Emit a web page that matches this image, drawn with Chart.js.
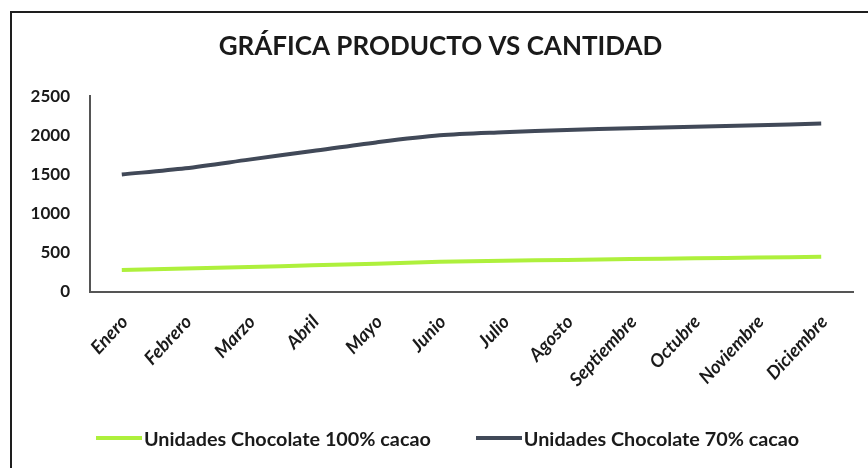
<!DOCTYPE html>
<html>
<head>
<meta charset="utf-8">
<script src="https://cdn.jsdelivr.net/npm/chart.js@4"></script>
<style>
  html, body { margin: 0; padding: 0; background: #fff; }
  #wrap { position: relative; width: 868px; height: 468px; overflow: hidden; }
  /* marco del gráfico (solo se ven el borde superior e izquierdo) */
  #frame { position: absolute; left: 10px; top: 11px; width: 900px; height: 500px;
           border-left: 2px solid #1e1e1e; border-top: 2px solid #1e1e1e; box-sizing: border-box; }
  canvas { position: absolute; left: 0; top: 0; }
  #leyenda { position: absolute; left: 96px; top: 426px; display: flex; align-items: center;
             font-family: Lato, "Open Sans", sans-serif; font-weight: bold; font-size: 19.8px;
             color: #1a1a1a; line-height: 24px; white-space: nowrap; }
  #leyenda .item { display: flex; align-items: center; margin-right: 45px; }
  #leyenda .linea { width: 46px; height: 4px; margin-right: 2px; }
</style>
</head>
<body>
<div id="wrap">
  <div id="frame"></div>
  <canvas id="chart" width="868" height="468"></canvas>
  <div id="leyenda"></div>
</div>
<script>
// Datos del gráfico
const meses = ['Enero', 'Febrero', 'Marzo', 'Abril', 'Mayo', 'Junio', 'Julio',
  'Agosto', 'Septiembre', 'Octubre', 'Noviembre', 'Diciembre'];
const cacao100 = [280, 300, 320, 340, 360, 385, 400, 410, 420, 430, 440, 450];
const cacao70 = [1500, 1580, 1690, 1800, 1910, 2000, 2040, 2070, 2090, 2110, 2130, 2150];
const ticksY = [0, 500, 1000, 1500, 2000, 2500];

const fuente = 'Lato, "Open Sans", sans-serif';

const grafica = new Chart(document.getElementById('chart'), {
  type: 'line',
  data: {
    labels: meses,
    datasets: [{
      label: 'Unidades Chocolate 100% cacao',
      data: cacao100,
      borderColor: '#aef03c',
      backgroundColor: '#aef03c',
      borderWidth: 4,
      pointRadius: 0,
      tension: 0.3
    }, {
      label: 'Unidades Chocolate 70% cacao',
      data: cacao70,
      borderColor: '#414958',
      backgroundColor: '#414958',
      borderWidth: 4,
      pointRadius: 0,
      tension: 0.3
    }]
  },
  options: {
    responsive: false,
    animation: false,
    devicePixelRatio: 1,
    layout: { padding: { left: 28, right: 15, top: 12, bottom: 58 } },
    scales: {
      x: {
        offset: true,
        grid: { display: false, drawTicks: false },
        border: { display: true, color: '#555', width: 2 },
        ticks: {
          color: '#1a1a1a',
          maxRotation: 47,
          minRotation: 47,
          autoSkip: false,
          padding: 19,
          labelOffset: 3,
          font: { family: fuente, size: 18.5, weight: 'bold', style: 'italic' }
        },
        afterFit: function(scale) { scale.height = 118; }
      },
      y: {
        min: 0,
        max: 2500,
        afterBuildTicks: function(scale) {
          scale.ticks = ticksY.map(v => ({ value: v }));
        },
        grid: { display: false, drawTicks: false },
        border: { display: true, color: '#555', width: 2 },
        ticks: {
          color: '#1a1a1a',
          padding: 20,
          font: { family: fuente, size: 17, weight: 'bold' },
          callback: function(v) { return String(v); }
        },
        afterFit: function(scale) { scale.width = 62; }
      }
    },
    plugins: {
      title: {
        display: true,
        text: 'GRÁFICA PRODUCTO VS CANTIDAD',
        color: '#1a1a1a',
        font: { family: fuente, size: 26, weight: 'bold' },
        padding: { top: 19, bottom: 34 }
      },
      legend: { display: false },
      tooltip: { enabled: false }
    }
  }
});

// Leyenda en HTML, construida a partir de los datasets
const leyenda = document.getElementById('leyenda');
grafica.data.datasets.forEach(ds => {
  const item = document.createElement('div');
  item.className = 'item';
  item.innerHTML = '<span class="linea" style="background:' + ds.borderColor + '"></span>' +
    '<span>' + ds.label + '</span>';
  leyenda.appendChild(item);
});
</script>
</body>
</html>
